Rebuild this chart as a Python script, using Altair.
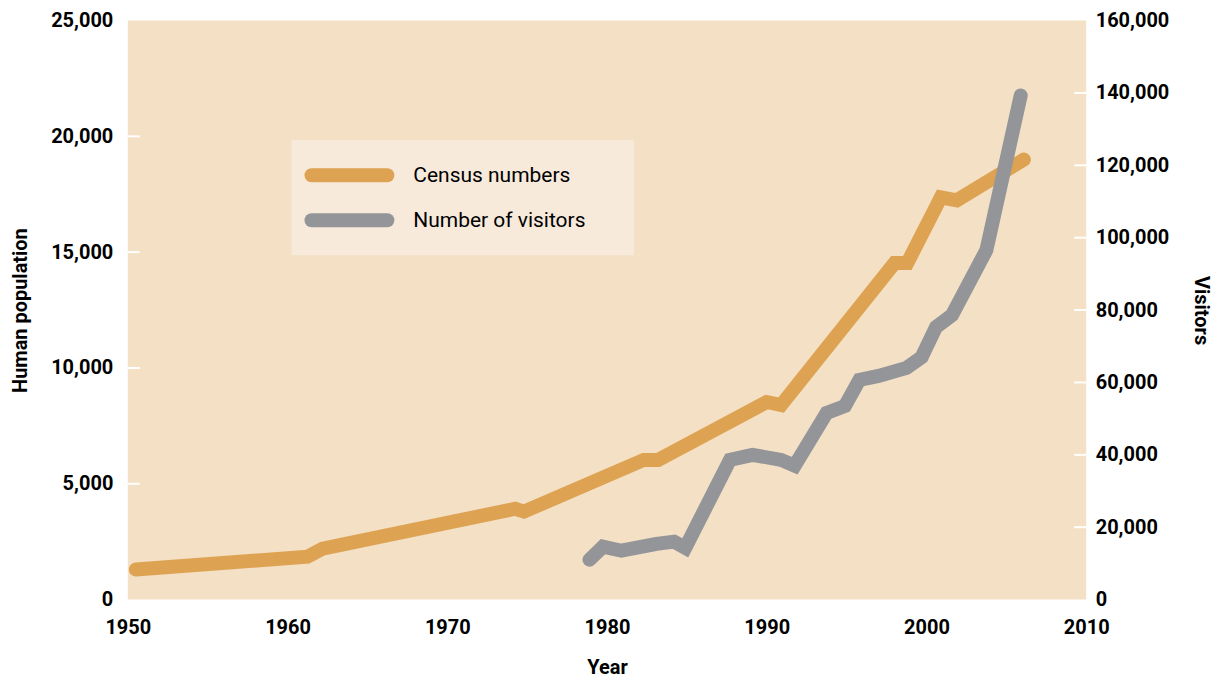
import altair as alt
import pandas as pd

census_years = [1950.5, 1961.25, 1962.2, 1974.25, 1974.8, 1982.3, 1983.2, 1990.0, 1990.9, 1998.0, 1998.8, 2000.9, 2001.9, 2006.1]
census_pop = [1300, 1850, 2200, 3920, 3800, 6030, 6030, 8530, 8400, 14530, 14530, 17370, 17240, 19000]

visitor_years = [1978.9, 1979.75, 1980.9, 1983.1, 1984.2, 1984.9, 1987.7, 1989.1, 1990.9, 1991.75,
                 1993.75, 1994.9, 1995.8, 1997.0, 1998.75, 1999.7, 2000.6, 2001.6, 2003.75, 2005.9]
visitors = [11000, 14600, 13500, 15400, 16000, 14300, 38600, 40000, 38600, 37000,
            51600, 53500, 60700, 61800, 64000, 67000, 75300, 78600, 96550, 139300]

left_ticks = [0, 5000, 10000, 15000, 20000, 25000]
right_ticks = [0, 20000, 40000, 60000, 80000, 100000, 120000, 140000, 160000]
x_ticks = [1950, 1960, 1970, 1980, 1990, 2000, 2010]
left_inner_ticks = [5000, 10000, 15000, 20000]
right_inner_ticks = [20000, 40000, 60000, 80000, 100000, 120000, 140000]

series_names = ["Census numbers", "Number of visitors"]
series_colors = ["#DEA352", "#939598"]

FONT = "Roboto"

census_df = pd.DataFrame({"Year": census_years, "value": census_pop, "series": series_names[0]})
visit_df = pd.DataFrame({"Year": visitor_years, "value": visitors, "series": series_names[1]})
lt_df = pd.DataFrame({"value": left_inner_ticks})
rt_df = pd.DataFrame({"value": right_inner_ticks})
leg_df = pd.DataFrame({"series": series_names})

x_enc = alt.X("Year:Q", scale=alt.Scale(domain=[1950, 2010], nice=False, zero=False),
              axis=alt.Axis(values=x_ticks, format="d", title="Year", labelPadding=18,
                            labelFlush=False, ticks=False, domain=False, grid=False, titlePadding=20))

left_axis = alt.Axis(values=left_ticks, format=",d", title="Human population", orient="left",
                     ticks=False, domain=False, grid=False, labelPadding=15, titlePadding=20)
right_axis = alt.Axis(values=right_ticks, format=",d", title="Visitors", orient="right",
                      ticks=False, domain=False, grid=False, labelPadding=9, titlePadding=22)

y_left = alt.Y("value:Q", scale=alt.Scale(domain=[0, 25000], nice=False), axis=left_axis)
y_right = alt.Y("value:Q", scale=alt.Scale(domain=[0, 160000], nice=False), axis=right_axis)

color_enc = alt.Color("series:N", scale=alt.Scale(domain=series_names, range=series_colors), legend=None)

census_line = alt.Chart(census_df).mark_line(strokeWidth=14, strokeCap="round", strokeJoin="miter").encode(
    x=x_enc, y=y_left, color=color_enc)
left_tick_marks = alt.Chart(lt_df).mark_rule(color="white", strokeWidth=2).encode(
    y=y_left, x=alt.value(0), x2=alt.value(12))

visit_line = alt.Chart(visit_df).mark_line(strokeWidth=14, strokeCap="round", strokeJoin="miter").encode(
    x=x_enc, y=y_right, color=color_enc)
right_tick_marks = alt.Chart(rt_df).mark_rule(color="white", strokeWidth=2).encode(
    y=y_right, x=alt.value(948), x2=alt.value(960))

# legend (drawn as a box with two swatches and labels)
legend_box = alt.Chart(pd.DataFrame({"a": [0]})).mark_rect(color="#F7EADB").encode(
    x=alt.value(164), x2=alt.value(507), y=alt.value(120), y2=alt.value(235))

legend_layers = []
for i, name in enumerate(series_names):
    yv = 155 + 45 * i
    sub = leg_df[leg_df["series"] == name]
    legend_layers.append(
        alt.Chart(sub).mark_rule(strokeWidth=14, strokeCap="round").encode(
            x=alt.value(184), x2=alt.value(260), y=alt.value(yv), color=color_enc))
    legend_layers.append(
        alt.Chart(sub).mark_text(align="left", baseline="middle", font=FONT, fontSize=21,
                                 color="black").encode(
            x=alt.value(286), y=alt.value(yv + 1), text="series:N"))

left_group = alt.layer(legend_box, left_tick_marks, census_line)
right_group = alt.layer(right_tick_marks, visit_line, *legend_layers)

chart = alt.layer(left_group, right_group).resolve_scale(y="independent").properties(
    width=960, height=580, padding={"left": 2, "top": 2, "right": 2, "bottom": 0}
).configure_view(fill="#F3E0C5", stroke=None).configure_axis(
    labelFont=FONT, labelFontSize=20, labelFontWeight="bold", labelColor="black",
    titleFont=FONT, titleFontSize=20, titleFontWeight="bold", titleColor="black"
)

chart.save("out.html", embed_options={"renderer": "svg", "actions": False})
